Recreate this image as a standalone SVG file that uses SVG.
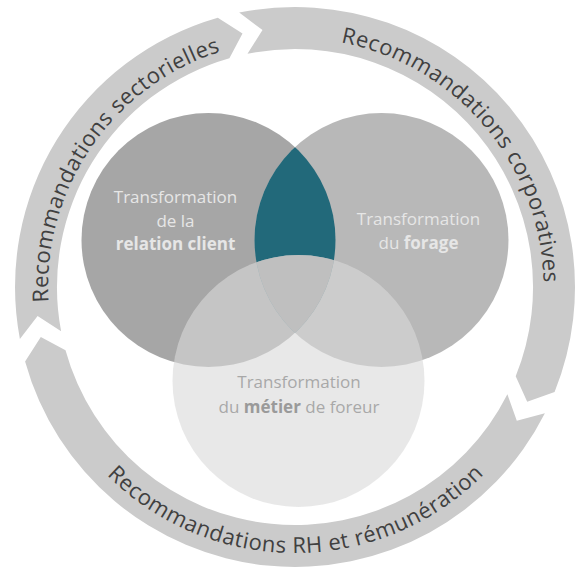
<svg xmlns="http://www.w3.org/2000/svg" width="579" height="567" viewBox="0 0 579 567">
  <style>
    .ring { fill: #cbcbcb; }
    .ringtxt { font-family: "Open Sans", "DejaVu Sans", sans-serif; font-size: 22px; fill: #404040; letter-spacing: 0.5px; }
    .vt { font-family: "Open Sans", "DejaVu Sans", sans-serif; font-size: 17px; text-anchor: middle; }
    .light { fill: #e6e6e6; }
    .dim { fill: #a8a8a8; }
    .b { font-weight: bold; }
  </style>
  <defs>
    <clipPath id="clipL"><circle cx="208.5" cy="240" r="127"/></clipPath>
    <clipPath id="clipR"><circle cx="381.5" cy="240" r="127"/></clipPath>
    <path id="pTop" d="M340.8,42.3 A250,250 0 0 1 529.0,372.2"/>
    <path id="pLeft" d="M48.5,302.1 A247,247 0 0 1 252.1,43.8"/>
    <path id="pBot" d="M106.9,475.1 A266,266 0 0 0 512.9,439.6"/>
  </defs>

  <g id="connectors">
    <g id="arrow-sectorielles">
      <path class="ring" d="M19.9,339.0 A280,280 0 0 1 217.8,17.8 L242.5,33.4 L229.4,58.2 A238,238 0 0 0 61.1,331.2 L37.6,315.9 Z"/>
      <text class="ringtxt"><textPath href="#pLeft">Recommandations sectorielles</textPath></text>
    </g>
    <g id="arrow-corporatives">
      <path class="ring" d="M239.2,12.6 A280,280 0 0 1 554.6,391.9 L527.2,401.8 L515.7,376.2 A238,238 0 0 0 247.5,53.8 L262.5,30.0 Z"/>
      <text class="ringtxt"><textPath href="#pTop">Recommandations corporatives</textPath></text>
    </g>
    <g id="arrow-rh">
      <path class="ring" d="M544.9,413.3 A280,280 0 0 1 25.1,361.4 L40.8,336.9 L65.5,350.2 A238,238 0 0 0 507.4,394.3 L516.8,420.8 Z"/>
      <text class="ringtxt"><textPath href="#pBot">Recommandations RH et rémunération</textPath></text>
    </g>
  </g>

  <g id="venn">
    <g id="circle-relation-client">
      <circle cx="208.5" cy="240" r="127" fill="#a6a6a6"/>
    </g>
    <g id="circle-forage">
      <circle cx="381.5" cy="240" r="127" fill="#b8b8b8"/>
    </g>
    <g id="intersection">
      <circle cx="208.5" cy="240" r="127" fill="#22697a" clip-path="url(#clipR)"/>
    </g>
    <g id="circle-metier">
      <circle cx="298.5" cy="381" r="126" fill="#d9d9d9" fill-opacity="0.61"/>
      <g clip-path="url(#clipL)">
        <circle cx="298.5" cy="381" r="126" fill="#bfbfbf" clip-path="url(#clipR)"/>
      </g>
    </g>
  </g>

  <g id="labels">
    <g id="label-relation-client" class="light">
      <text class="vt" x="175.5" y="203">Transformation</text>
      <text class="vt" x="175.5" y="227">de la</text>
      <text class="vt b" x="175.5" y="250">relation client</text>
    </g>
    <g id="label-forage" class="light">
      <text class="vt" x="418.5" y="225">Transformation</text>
      <text class="vt" x="418.5" y="249">du <tspan class="b">forage</tspan></text>
    </g>
    <g id="label-metier" class="dim">
      <text class="vt" x="299" y="388">Transformation</text>
      <text class="vt" x="299" y="413">du <tspan class="b" fill="#9a9a9a">métier</tspan> de foreur</text>
    </g>
  </g>
</svg>
